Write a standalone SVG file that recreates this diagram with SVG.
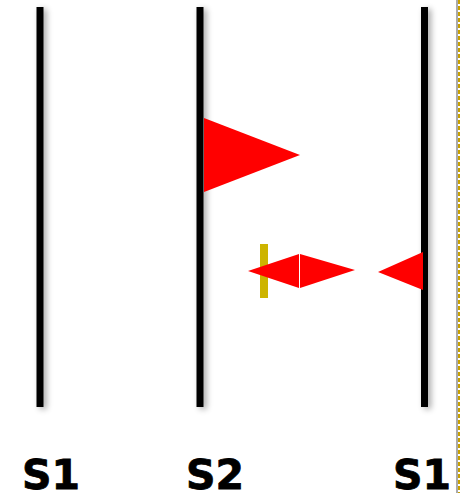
<svg xmlns="http://www.w3.org/2000/svg" width="460" height="493" viewBox="0 0 460 493">
<defs>
<style>
.ln{fill:#000;filter:url(#sh)}
.fl{fill:#ff0000}
.lb{font-family:"DejaVu Sans",Verdana,sans-serif;font-weight:bold;font-size:41px;text-anchor:middle;fill:#000;stroke:#000;stroke-width:0.8}
</style>
<filter id="sh" filterUnits="userSpaceOnUse" x="0" y="0" width="460" height="430">
<feGaussianBlur in="SourceAlpha" stdDeviation="3"/>
<feOffset dx="3" dy="2" result="b"/>
<feComponentTransfer><feFuncA type="linear" slope="0.35"/></feComponentTransfer>
<feMerge><feMergeNode/><feMergeNode in="SourceGraphic"/></feMerge>
</filter>
</defs>
<rect width="460" height="493" fill="#fff"/>
<line x1="457" y1="0" x2="457" y2="493" stroke="#aaa" stroke-width="2"/>
<line x1="459" y1="0" x2="459" y2="493" stroke="#c8a000" stroke-width="2" stroke-dasharray="4,2"/>
<g id="connectors">
<rect id="lifeline-s1-left" class="ln" x="36.5" y="7" width="7" height="400"/>
<rect id="lifeline-s2" class="ln" x="196.5" y="7" width="7" height="400"/>
<rect id="lifeline-s1-right" class="ln" x="421" y="7" width="7" height="400"/>
</g>
<g id="flag-s2"><polygon class="fl" points="204,118 300,155 204,192"/></g>
<g id="marker-yellow"><rect x="260" y="244" width="8" height="54" fill="#cdb400"/></g>
<g id="diamond">
<polygon class="fl" points="248,271 299,254 299,288"/>
<polygon class="fl" points="300,254 355,270 300,288"/>
</g>
<g id="flag-s1-right"><polygon class="fl" points="378,272 423,252 423,290"/></g>
<g id="labels">
<text class="lb" x="51" y="489">S1</text>
<text class="lb" x="215" y="489">S2</text>
<text class="lb" x="422" y="489">S1</text>
</g>
</svg>
